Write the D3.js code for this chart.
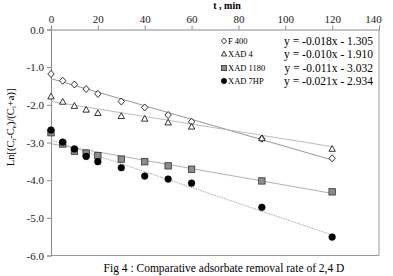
<!DOCTYPE html>
<html>
<head>
<meta charset="utf-8">
<script src="https://cdn.jsdelivr.net/npm/d3@7"></script>
<style>
  body { margin: 0; background: #fff; }
  svg { display: block; font-family: "Liberation Serif", "DejaVu Serif", serif; }
</style>
</head>
<body>
<svg id="chart" width="393" height="276"></svg>
<script>
// sampling times (min)
var times = [0, 5, 10, 15, 20, 30, 40, 50, 60, 90, 120];

// Ln[(Ct-Ce)/(Ci+a)]
var f400    = [-1.18, -1.36, -1.46, -1.58, -1.71, -1.91, -2.07, -2.27, -2.45, -2.90, -3.42];
var xad4    = [-1.78, -1.92, -2.03, -2.13, -2.22, -2.30, -2.37, -2.47, -2.58, -2.89, -3.17];
var xad1180 = [-2.74, -3.04, -3.23, -3.28, -3.35, -3.44, -3.51, -3.62, -3.71, -4.02, -4.31];
var xad7hp  = [-2.67, -2.99, -3.17, -3.37, -3.51, -3.67, -3.89, -3.97, -4.08, -4.72, -5.51];

var seriesNames = ['F 400', 'XAD 4', 'XAD 1180', 'XAD 7HP'];
var slopes      = [-0.018, -0.010, -0.011, -0.021];
var intercepts  = [-1.305, -1.910, -3.032, -2.934];

var xTicks = [0, 20, 40, 60, 80, 100, 120, 140];
var yTicks = [0, -1, -2, -3, -4, -5, -6];

var series = [
  { name: seriesNames[0], values: f400,    shape: 'diamond',  fill: '#fff',    line: '#8a8a8a', dash: null },
  { name: seriesNames[1], values: xad4,    shape: 'triangle', fill: '#fff',    line: '#b4b4b4', dash: null },
  { name: seriesNames[2], values: xad1180, shape: 'square',   fill: '#8c8c8c', line: '#a8a8a8', dash: null },
  { name: seriesNames[3], values: xad7hp,  shape: 'circle',   fill: '#000',    line: '#a0a0a0', dash: '1.5,1' }
];
series.forEach(function (s, i) { s.slope = slopes[i]; s.intercept = intercepts[i]; });

var svg = d3.select('#chart');
var margin = { left: 51, top: 29.5, right: 14, bottom: 20.5 };
var W = 393 - margin.left - margin.right;
var H = 276 - margin.top - margin.bottom;

var x = d3.scaleLinear().domain([0, 140]).range([0, W]);
var y = d3.scaleLinear().domain([-6, 0]).range([H, 0]);

var g = svg.append('g').attr('transform', 'translate(' + margin.left + ',' + margin.top + ')');

// plot border (right and bottom)
g.append('path')
  .attr('d', 'M' + W + ',0V' + H + 'H0')
  .attr('fill', 'none')
  .attr('stroke', '#9a9a9a')
  .attr('stroke-width', 1);

// axes
var xAxis = g.append('g')
  .call(d3.axisTop(x).tickValues(xTicks).tickSize(4).tickPadding(3));
var yAxis = g.append('g')
  .call(d3.axisLeft(y).tickValues(yTicks).tickSize(4).tickPadding(3)
    .tickFormat(function (d) { return d.toFixed(1).replace('-0.0', '0.0'); }));

[xAxis, yAxis].forEach(function (a) {
  a.select('.domain').attr('stroke', '#8a8a8a');
  a.selectAll('.tick line').attr('stroke', '#8a8a8a');
  a.selectAll('text').attr('font-size', 11).attr('fill', '#222')
    .attr('font-family', '"Liberation Serif", serif');
});
xAxis.selectAll('.tick').filter(function (d) { return d === 140; })
  .select('text').attr('dx', -6);

// axis titles
svg.append('text')
  .attr('x', 227).attr('y', 8.5)
  .attr('text-anchor', 'middle')
  .attr('font-size', 10).attr('font-weight', 'bold')
  .text('t , min');

var yl = svg.append('text')
  .attr('transform', 'translate(14,' + (margin.top + y(-2.6)) + ') rotate(-90)')
  .attr('text-anchor', 'middle')
  .attr('font-size', 10.5);
yl.append('tspan').text('Ln[(C');
yl.append('tspan').attr('font-size', 7).attr('dy', 2).text('t');
yl.append('tspan').attr('dy', -2).text('-C');
yl.append('tspan').attr('font-size', 7).attr('dy', 2).text('e');
yl.append('tspan').attr('dy', -2).text(')/(C');
yl.append('tspan').attr('font-size', 7).attr('dy', 2).text('i');
yl.append('tspan').attr('dy', -2).text('+a)]');

// trend lines
g.selectAll('.trend').data(series).enter().append('line')
  .attr('class', 'trend')
  .attr('x1', x(0))
  .attr('y1', function (d) { return y(d.intercept); })
  .attr('x2', x(120))
  .attr('y2', function (d) { return y(d.intercept + d.slope * 120); })
  .attr('stroke', function (d) { return d.line; })
  .attr('stroke-width', 0.9)
  .attr('stroke-dasharray', function (d) { return d.dash; });

// markers, r is half the marker width
function drawMarker(sel, shape, fill, r) {
  var p;
  if (shape === 'diamond') {
    p = 'M0,' + (-r * 1.1) + 'L' + r + ',0L0,' + (r * 1.1) + 'L' + (-r) + ',0Z';
    sel.append('path').attr('d', p)
      .attr('fill', fill).attr('stroke', '#000').attr('stroke-width', 0.8);
  } else if (shape === 'triangle') {
    p = 'M0,' + (-r * 1.05) + 'L' + r + ',' + (r * 0.75) + 'L' + (-r) + ',' + (r * 0.75) + 'Z';
    sel.append('path').attr('d', p)
      .attr('fill', fill).attr('stroke', '#000').attr('stroke-width', 0.8);
  } else if (shape === 'square') {
    sel.append('rect').attr('x', -r).attr('y', -r).attr('width', 2 * r).attr('height', 2 * r)
      .attr('fill', fill).attr('stroke', '#333').attr('stroke-width', 0.8);
  } else {
    sel.append('circle').attr('r', r * 1.05)
      .attr('fill', fill).attr('stroke', '#000').attr('stroke-width', 0.5);
  }
}

series.forEach(function (s) {
  g.append('g').selectAll('g').data(s.values).enter().append('g')
    .attr('transform', function (v, i) { return 'translate(' + x(times[i]) + ',' + y(v) + ')'; })
    .each(function () { drawMarker(d3.select(this), s.shape, s.fill, 3.2); });
});

// legend
var legendRows = [41, 54, 68, 81];
var leg = svg.append('g');
series.forEach(function (s, i) {
  var row = leg.append('g').attr('transform', 'translate(0,' + legendRows[i] + ')');
  drawMarker(row.append('g').attr('transform', 'translate(224,0)'), s.shape, s.fill, 2.6);
  row.append('text').attr('x', 228).attr('y', 3).attr('font-size', 8.5).text(s.name);
  var eq = 'y = ' + s.slope.toFixed(3) + 'x - ' + Math.abs(s.intercept).toFixed(3);
  row.append('text').attr('x', 373).attr('y', 3.5).attr('text-anchor', 'end')
    .attr('font-size', 11.5).text(eq);
});

// caption
svg.append('text')
  .attr('x', 224).attr('y', 272)
  .attr('text-anchor', 'middle')
  .attr('font-size', 11.5)
  .text('Fig  4 : Comparative adsorbate removal rate of 2,4 D');
</script>
</body>
</html>
